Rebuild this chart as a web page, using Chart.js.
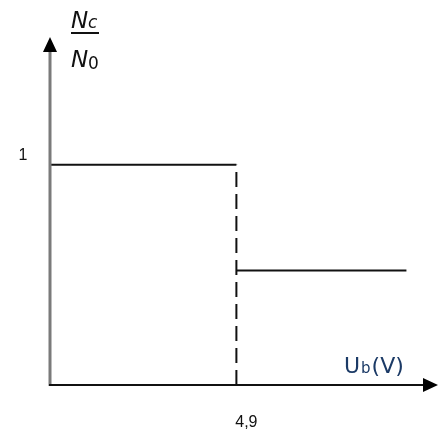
<!DOCTYPE html>
<html>
<head>
<meta charset="utf-8">
<script src="https://cdn.jsdelivr.net/npm/chart.js@4.4.1/dist/chart.umd.min.js"></script>
<style>
    html, body { margin: 0; padding: 0; background: #fff; }
    #box { width: 446px; height: 434px; }
</style>
</head>
<body>
<div id="box"><canvas id="grafico"></canvas></div>
<script>
// dados
const patamarAltoX = [0, 4.9];
const patamarAltoY = [1, 1];
const patamarBaixoX = [4.9, 9.37];
const patamarBaixoY = [0.52, 0.52];
const tracejadoX = [4.9, 4.9];
const tracejadoY = [0, 1];
const ticksX = [4.9];
const ticksY = [1];
const rotulosX = ["4,9"];
const rotulosY = ["1"];

function pontos(xs, ys) {
    return xs.map((x, i) => ({ x: x, y: ys[i] }));
}

// plugin que desenha os eixos com setas e os textos
const eixos = {
    id: "eixos",
    afterDraw(chart) {
        const ctx = chart.ctx;
        const sx = chart.scales.x;
        const sy = chart.scales.y;
        const x0 = sx.getPixelForValue(0);
        const y0 = sy.getPixelForValue(0);
        const xMax = sx.right;
        const yMax = sy.top;
        ctx.save();

        // eixo y (cinza)
        ctx.strokeStyle = "#7a7a7a";
        ctx.lineWidth = 3;
        ctx.beginPath();
        ctx.moveTo(x0, y0 + 1);
        ctx.lineTo(x0, yMax + 12);
        ctx.stroke();
        ctx.fillStyle = "#000";
        ctx.beginPath();
        ctx.moveTo(x0, yMax);
        ctx.lineTo(x0 - 7, yMax + 15);
        ctx.lineTo(x0 + 7, yMax + 15);
        ctx.closePath();
        ctx.fill();

        // eixo x
        ctx.strokeStyle = "#111";
        ctx.lineWidth = 2;
        ctx.beginPath();
        ctx.moveTo(x0 - 1, y0);
        ctx.lineTo(xMax - 12, y0);
        ctx.stroke();
        ctx.beginPath();
        ctx.moveTo(xMax, y0);
        ctx.lineTo(xMax - 15, y0 - 7);
        ctx.lineTo(xMax - 15, y0 + 7);
        ctx.closePath();
        ctx.fill();

        // rótulos dos ticks
        ctx.fillStyle = "#111";
        ctx.font = "16px 'Liberation Sans', Arial, sans-serif";
        ctx.textBaseline = "middle";
        ctx.textAlign = "center";
        ticksX.forEach((v, i) => {
            ctx.fillText(rotulosX[i], sx.getPixelForValue(v) + 10, y0 + 38);
        });
        ticksY.forEach((v, i) => {
            ctx.fillText(rotulosY[i], x0 - 27, sy.getPixelForValue(v) - 9);
        });

        // título do eixo x: Ub(V)
        ctx.fillStyle = "#1b3a66";
        ctx.textAlign = "left";
        ctx.textBaseline = "alphabetic";
        let px = 344;
        ctx.font = "22px 'DejaVu Sans', sans-serif";
        ctx.fillText("U", px, 373);
        px += ctx.measureText("U").width + 1;
        ctx.font = "15px 'DejaVu Sans', sans-serif";
        ctx.fillText("b", px, 373);
        px += ctx.measureText("b").width + 1;
        ctx.font = "22px 'DejaVu Sans', sans-serif";
        ctx.fillText("(V)", px, 373);

        // título do eixo y: Nc / N0
        ctx.fillStyle = "#111";
        ctx.font = "italic 23px 'DejaVu Sans', sans-serif";
        ctx.fillText("N", 71, 28);
        ctx.font = "italic 17px 'DejaVu Sans', sans-serif";
        ctx.fillText("c", 88, 28);
        ctx.fillRect(71, 32, 28, 2);
        ctx.font = "italic 23px 'DejaVu Sans', sans-serif";
        ctx.fillText("N", 71, 67);
        ctx.font = "17px 'DejaVu Sans', sans-serif";
        ctx.fillText("0", 88, 69);
        ctx.restore();
    }
};

new Chart(document.getElementById("grafico"), {
    type: "line",
    data: {
        datasets: [
            {
                data: pontos(patamarAltoX, patamarAltoY),
                borderColor: "#111",
                borderWidth: 2,
                pointRadius: 0
            },
            {
                data: pontos(patamarBaixoX, patamarBaixoY),
                borderColor: "#111",
                borderWidth: 2,
                pointRadius: 0
            },
            {
                data: pontos(tracejadoX, tracejadoY),
                borderColor: "#111",
                borderWidth: 2,
                borderDash: [15, 7],
                pointRadius: 0
            }
        ]
    },
    options: {
        responsive: true,
        maintainAspectRatio: false,
        animation: false,
        layout: { padding: { left: 50, right: 8, top: 37, bottom: 49 } },
        plugins: {
            legend: { display: false },
            tooltip: { enabled: false }
        },
        scales: {
            x: { type: "linear", min: 0, max: 10.2, display: false },
            y: { type: "linear", min: 0, max: 1.58, display: false }
        }
    },
    plugins: [eixos]
});
</script>
</body>
</html>
